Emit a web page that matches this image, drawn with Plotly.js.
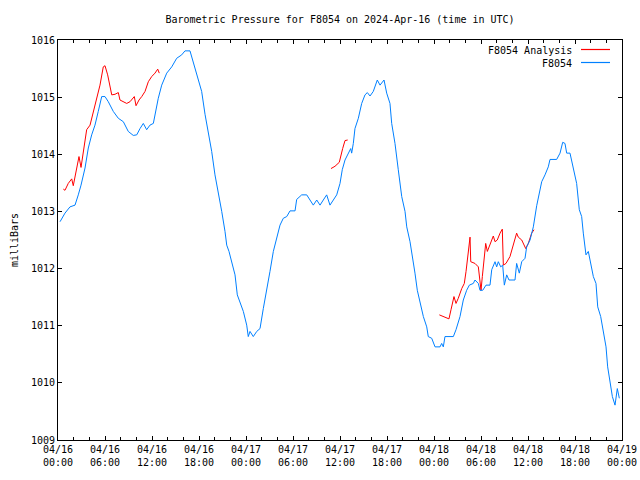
<!DOCTYPE html>
<html>
<head>
<meta charset="utf-8">
<script src="https://cdn.plot.ly/plotly-3.0.1.min.js"></script>
<style>html,body{margin:0;padding:0;background:#fff;}#chart{width:640px;height:480px;}</style>
</head>
<body>
<div id="chart"></div>
<script>
// Hours since 2024-04-16 00:00 UTC
var stationHours = [0.26,0.89,1.53,2.17,2.59,2.94,3.45,3.87,4.30,4.72,5.14,5.58,6.00,6.42,7.06,7.70,8.34,8.97,9.61,10.05,10.47,10.89,11.32,11.74,12.17,12.38,12.80,13.24,13.88,14.52,15.15,15.79,16.21,16.85,17.27,17.71,18.34,18.77,19.19,19.62,20.04,20.46,20.90,21.32,21.54,21.83,22.17,22.60,22.89,23.23,23.66,24.09,24.29,24.51,24.93,25.37,25.79,26.21,26.64,27.06,27.49,27.92,28.34,28.76,29.20,29.62,30.26,30.47,31.11,31.75,32.17,32.59,33.03,33.45,33.87,34.30,34.72,35.14,35.58,36.00,36.29,36.64,37.06,37.37,37.49,37.70,37.91,38.34,38.77,39.19,39.49,39.83,40.25,40.76,41.11,41.62,41.96,42.38,42.60,43.02,43.44,43.88,44.30,44.52,44.94,45.36,45.57,45.87,46.21,46.64,47.07,47.27,47.71,48.13,48.77,48.98,49.19,49.40,50.47,50.81,51.32,51.74,52.17,52.51,53.02,53.23,53.66,53.87,54.22,54.64,55.15,55.37,55.79,56.00,56.21,56.52,56.77,56.98,57.28,57.57,58.34,58.55,58.89,59.20,59.62,59.83,60.26,60.68,61.11,61.53,61.75,62.17,62.59,62.81,63.66,64.09,64.43,64.72,64.94,65.36,65.79,66.21,66.55,66.85,67.06,67.40,67.70,68.00,68.34,68.68,68.90,69.28,69.62,69.96,70.17,70.47,70.77,71.11,71.40,71.66];
var stationPressure = [1012.82,1012.97,1013.08,1013.11,1013.29,1013.46,1013.76,1014.11,1014.34,1014.51,1014.75,1015.01,1015.01,1014.92,1014.75,1014.63,1014.57,1014.40,1014.33,1014.34,1014.45,1014.54,1014.43,1014.51,1014.54,1014.69,1014.98,1015.21,1015.42,1015.53,1015.68,1015.74,1015.81,1015.81,1015.62,1015.42,1015.10,1014.70,1014.40,1014.05,1013.64,1013.35,1013.00,1012.65,1012.41,1012.30,1012.12,1011.89,1011.54,1011.42,1011.25,1011.01,1010.81,1010.90,1010.81,1010.90,1010.95,1011.30,1011.60,1011.95,1012.30,1012.53,1012.76,1012.88,1012.91,1013.01,1013.01,1013.21,1013.29,1013.29,1013.20,1013.11,1013.20,1013.11,1013.20,1013.29,1013.11,1013.20,1013.29,1013.49,1013.73,1013.90,1014.02,1014.10,1014.02,1014.19,1014.45,1014.63,1014.89,1015.04,1015.08,1015.02,1015.10,1015.30,1015.21,1015.30,1015.07,1014.89,1014.54,1014.19,1013.73,1013.26,1013.00,1012.73,1012.47,1012.15,1011.92,1011.62,1011.39,1011.16,1010.98,1010.81,1010.78,1010.63,1010.63,1010.69,1010.63,1010.81,1010.81,1010.93,1011.16,1011.45,1011.62,1011.71,1011.74,1011.80,1011.74,1011.62,1011.62,1011.71,1011.71,1011.98,1012.12,1012.03,1012.12,1012.03,1012.06,1011.71,1011.89,1011.80,1011.80,1012.09,1011.92,1012.12,1012.18,1012.38,1012.50,1012.73,1013.10,1013.38,1013.52,1013.64,1013.78,1013.91,1013.91,1014.02,1014.21,1014.19,1014.02,1014.02,1013.78,1013.49,1013.03,1012.91,1012.62,1012.24,1012.30,1012.12,1011.86,1011.74,1011.33,1011.16,1010.87,1010.63,1010.28,1009.99,1009.76,1009.61,1009.90,1009.73];

var analysisHours = [0.68,0.89,1.31,1.75,1.95,2.39,2.68,2.94,3.23,3.66,4.09,4.51,4.94,5.36,5.78,6.00,6.34,6.64,6.86,7.28,7.70,7.91,8.34,8.77,9.19,9.74,9.96,10.34,10.69,11.11,11.53,11.96,12.38,12.73,12.93,
  24.0,
  34.85,35.36,35.91,36.13,36.34,36.64,36.98,
  42.0,
  48.68,49.19,49.62,49.91,50.17,50.55,50.81,51.10,51.54,51.87,52.09,52.38,52.60,52.69,53.23,53.66,53.87,54.00,54.17,54.38,54.60,54.81,55.15,55.57,55.79,56.08,56.43,56.72,56.85,57.19,57.70,58.13,58.55,58.76,59.20,59.71,60.04,60.47,60.77];
var analysisPressure = [1013.39,1013.37,1013.49,1013.57,1013.45,1013.75,1013.96,1013.77,1014.05,1014.43,1014.51,1014.75,1014.95,1015.21,1015.53,1015.55,1015.39,1015.21,1015.04,1015.05,1015.08,1014.95,1014.92,1014.89,1014.92,1015.01,1014.85,1014.95,1015.01,1015.10,1015.27,1015.36,1015.42,1015.49,1015.42,
  null,
  1013.75,1013.79,1013.86,1013.96,1014.10,1014.24,1014.25,
  null,
  1011.19,1011.16,1011.13,1011.12,1011.28,1011.51,1011.39,1011.48,1011.65,1011.74,1011.95,1012.35,1012.55,1012.12,1012.09,1012.03,1011.74,1011.62,1011.86,1012.18,1012.44,1012.30,1012.41,1012.57,1012.47,1012.50,1012.62,1012.69,1012.06,1012.09,1012.21,1012.41,1012.62,1012.55,1012.50,1012.35,1012.44,1012.62,1012.68];

var seriesNames = ['F8054 Analysis', 'F8054'];
var seriesColors = ['#ff0000', '#0080ff'];

var base = Date.UTC(2024, 3, 16, 0, 0, 0);
function toDate(h) {
  return new Date(base + Math.round(h * 3600000)).toISOString().slice(0, 19).replace('T', ' ');
}

var mono = 'DejaVu Sans Mono, Liberation Mono, monospace';

var traces = [
  {x: analysisHours.map(toDate), y: analysisPressure, type: 'scatter', mode: 'lines', name: seriesNames[0],
   line: {color: seriesColors[0], width: 1}, connectgaps: false},
  {x: stationHours.map(toDate), y: stationPressure, type: 'scatter', mode: 'lines', name: seriesNames[1],
   line: {color: seriesColors[1], width: 1}}
];

var px = function (p) { return (p - 58) / 564; };
var py = function (p) { return (440 - p) / 400; };

var layout = {
  width: 640, height: 480,
  margin: {l: 58, r: 18, t: 40, b: 40, pad: 0},
  paper_bgcolor: '#fff', plot_bgcolor: '#fff',
  showlegend: false,
  font: {family: mono, size: 10, color: '#000'},
  title: {text: 'Barometric Pressure for F8054 on 2024-Apr-16 (time in UTC)', font: {family: mono, size: 10, color: '#000'},
          x: 0.5, xref: 'paper', y: 1 - 19 / 480, yref: 'container', yanchor: 'middle'},
  xaxis: {
    type: 'date', range: [toDate(0), toDate(72)],
    tickmode: 'linear', tick0: toDate(0), dtick: 6 * 3600000,
    tickformat: '%m/%d<br>%H:%M',
    ticks: 'inside', ticklen: 4, tickwidth: 1, tickcolor: '#000',
    minor: {dtick: 2 * 3600000, ticks: 'inside', ticklen: 3, tickcolor: '#000', tickwidth: 1, showgrid: false},
    showline: true, linecolor: '#000', linewidth: 1, mirror: 'ticks',
    showgrid: false, zeroline: false,
    tickfont: {family: mono, size: 10, color: '#000'}
  },
  yaxis: {
    range: [1009, 1016], tickmode: 'linear', tick0: 1009, dtick: 1,
    ticks: 'inside', ticklen: 4, tickwidth: 1, tickcolor: '#000',
    showline: true, linecolor: '#000', linewidth: 1, mirror: 'ticks',
    showgrid: false, zeroline: false,
    tickfont: {family: mono, size: 10, color: '#000'},
    title: {text: 'milliBars', font: {family: mono, size: 10, color: '#000'}, standoff: 10}
  },
  annotations: [
    {xref: 'paper', yref: 'paper', x: px(574), y: py(50.7), xanchor: 'right', yanchor: 'middle', showarrow: false,
     text: seriesNames[0], font: {family: mono, size: 10, color: '#000'}},
    {xref: 'paper', yref: 'paper', x: px(574), y: py(63.3), xanchor: 'right', yanchor: 'middle', showarrow: false,
     text: seriesNames[1], font: {family: mono, size: 10, color: '#000'}}
  ],
  shapes: [
    {type: 'line', layer: 'above', xref: 'paper', yref: 'paper', x0: px(581), x1: px(610), y0: py(49.5), y1: py(49.5),
     opacity: 1, line: {color: seriesColors[0], width: 1.2}},
    {type: 'line', layer: 'above', xref: 'paper', yref: 'paper', x0: px(581), x1: px(610), y0: py(62.5), y1: py(62.5),
     opacity: 1, line: {color: seriesColors[1], width: 1.2}}
  ]
};

Plotly.newPlot('chart', traces, layout, {displayModeBar: false, staticPlot: true});
</script>
</body>
</html>
